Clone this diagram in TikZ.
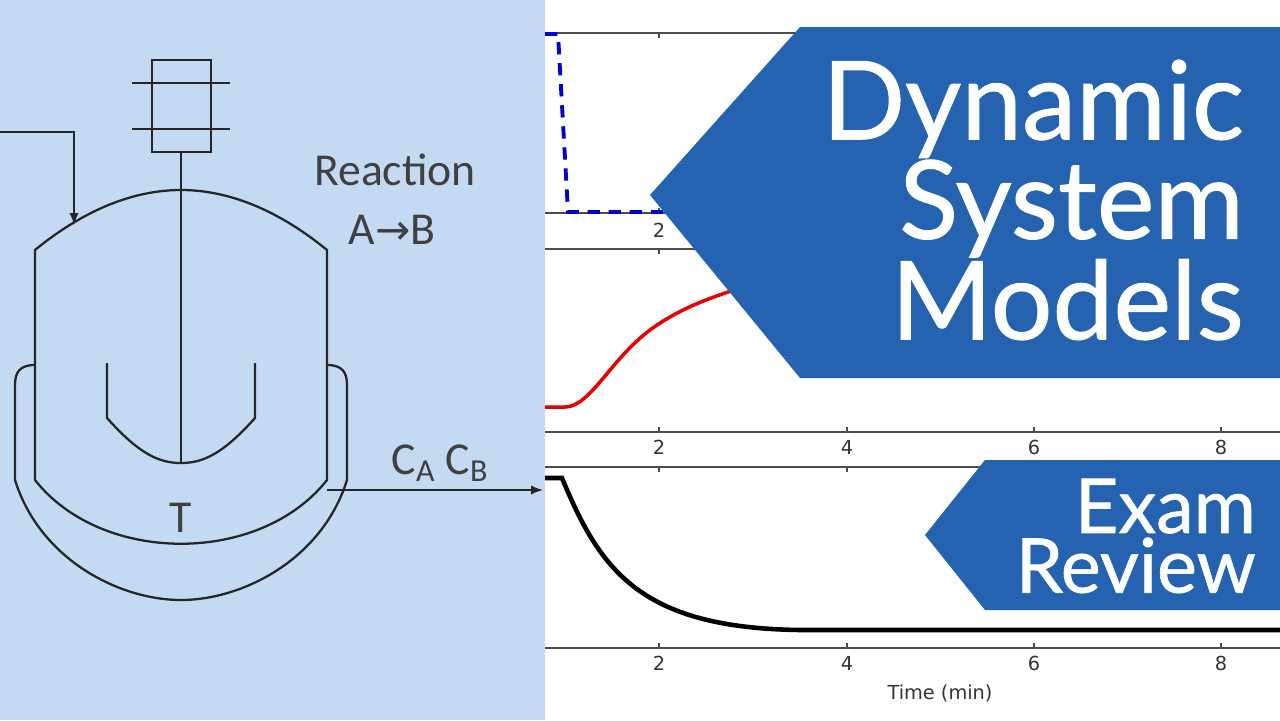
\documentclass[tikz,border=0pt]{standalone}
\usepackage{fontspec}
\setmainfont{Lato}
\newfontfamily\tfont{Lato}[UprightFeatures={FakeBold=0.9}]
\newfontfamily\sansf{DejaVu Sans}
\newfontfamily\calf{Carlito}
\begin{document}
\begin{tikzpicture}[x=0.02cm,y=-0.02cm,
  ln/.style={line width=1.3pt,black!85},
  ax/.style={line width=0.9pt,black!70},
  tk/.style={font=\fontsize{11}{11}\selectfont\sansf,text=black!80},
  banner/.style={fill=bnr,draw=none},
  title/.style={text=white,font=\fontsize{62}{55}\selectfont\tfont,align=right,anchor=east},
  lbl/.style={font=\fontsize{26}{26}\selectfont\calf,text=black!75}]
\definecolor{bg}{HTML}{C4DAF3}
\definecolor{bnr}{HTML}{2563B0}
\useasboundingbox (0,0) rectangle (1280,720);
\fill[white] (0,0) rectangle (1280,720);
\fill[bg] (0,0) rectangle (545,720);
% reactor
\draw[ln] (152,60) rectangle (211,152);
\draw[ln] (132,83) -- (230,83) (132,129) -- (230,129);
\draw[ln] (181,152) -- (181,463);
\draw[ln] (35,480) -- (35,250) .. controls (90,205) and (140,190) .. (181,190) .. controls (222,190) and (272,205) .. (327,250) -- (327,480)
  .. controls (260,565) and (102,565) .. (35,480);
\draw[ln] (35,365) .. controls (20,365) and (15,372) .. (15,385) -- (15,480) .. controls (40,560) and (120,600) .. (181,600) .. controls (242,600) and (322,560) .. (347,480) -- (347,385) .. controls (347,372) and (342,365) .. (327,365);
\draw[ln] (107,363) -- (107,418) .. controls (140,455) and (160,463) .. (181,463) .. controls (202,463) and (222,455) .. (255,418) -- (255,363);
\coordinate (in0) at (0,132); \coordinate (in1) at (74,225);
\draw[ln,-latex] (in0) -- (74,132) -- (in1);
\coordinate (o0) at (327,490); \coordinate (o1) at (543,490);
\draw[ln,-latex] (o0) -- (o1);
\node[lbl] (T) at (181,518) {T};
\node[lbl] (r1) at (395,170) {Reaction};
\node[lbl] (r2) at (392,230) {A{\sansf\fontsize{24}{24}\selectfont→}B};
\node[lbl] (cab) at (440,463) {C\textsubscript{A} C\textsubscript{B}};
% plots
\foreach \t/\b in {33/213,249/432,467/648}{
  \draw[ax] (545,\t) -- (1280,\t);
  \draw[ax] (545,\b) -- (1280,\b);
  \foreach \x in {659,847,1034,1221}{
    \draw[ax] (\x,\t) -- (\x,\t+5);
    \draw[ax] (\x,\b) -- (\x,\b-5);}
}
\node[tk] at (659,230) {2};
\foreach \y in {447,663}{
  \foreach \x/\v in {659/2,847/4,1034/6,1221/8}{ \node[tk] at (\x,\y) {\v}; }}
\node[tk] (time) at (940,693) {Time (min)};
\draw[blue!80!black,line width=2.2pt,dash pattern=on 7pt off 5pt] (545,34) -- (558,34) -- (568,212) -- (700,212);
\draw[red!90!black,line width=2pt] (545,407) -- (565,407) .. controls (590,407) and (610,360) .. (650,330) .. controls (680,308) and (710,298) .. (740,288);
\draw[black,line width=2.6pt] (545,478) -- (562,478) .. controls (600,570) and (640,628) .. (800,630) -- (1280,630);
% banners
\fill[banner] (650,195) -- (800,27) -- (1280,27) -- (1280,378) -- (800,378) -- cycle;
\node[title] (t1) at (1250,200) {Dynamic\\System\\Models};
\fill[banner] (925,535) -- (985,460) -- (1280,460) -- (1280,610) -- (985,610) -- cycle;
\node[title,font=\fontsize{43}{34}\selectfont\tfont] (t2) at (1262,536) {Exam\\Review};
\end{tikzpicture}
\end{document}
